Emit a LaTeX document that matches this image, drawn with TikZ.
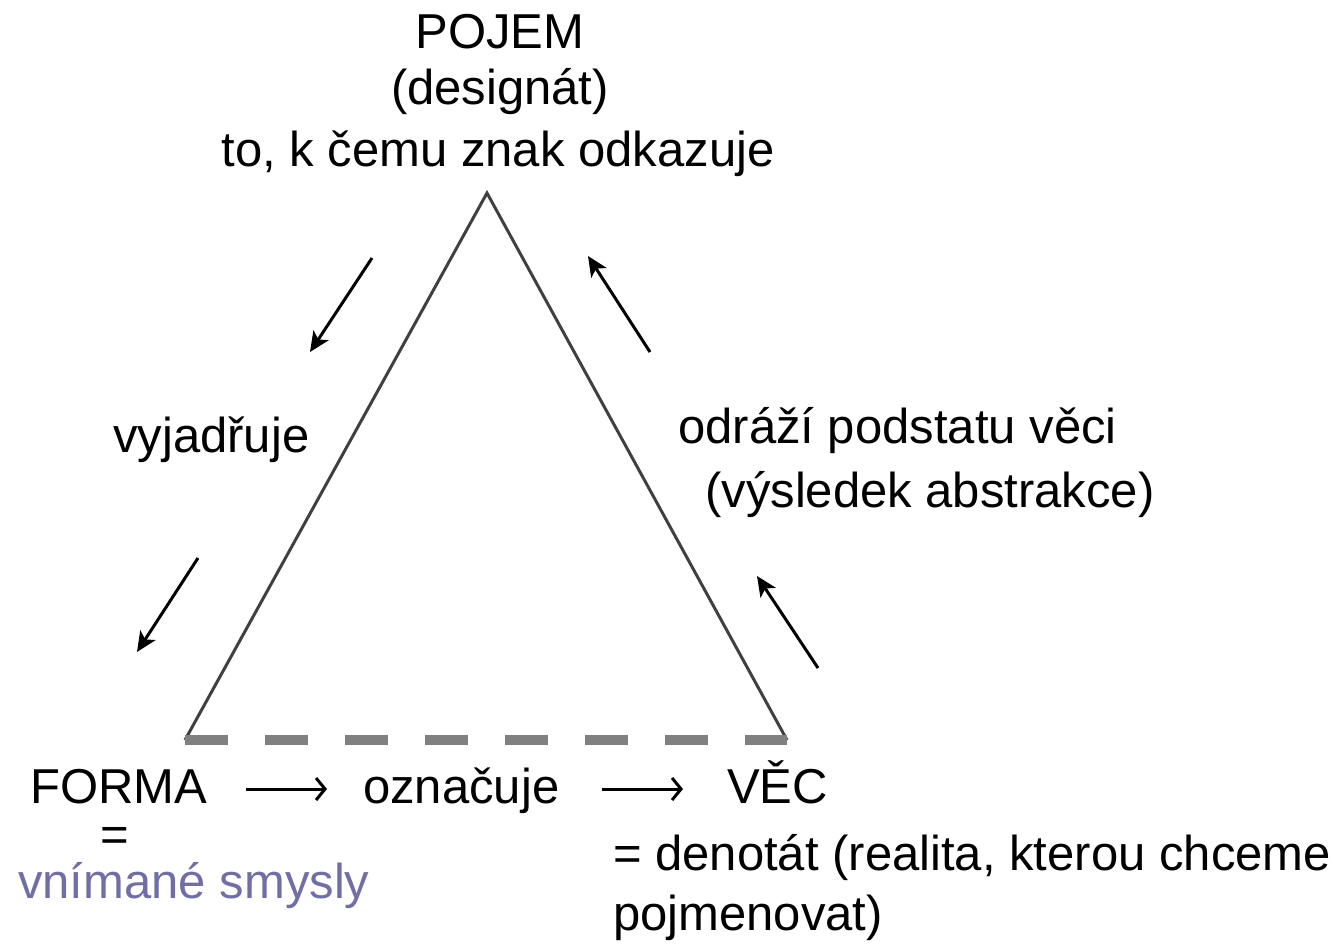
\documentclass[tikz,border=0pt]{standalone}
\usepackage{fontspec}
\setmainfont{Liberation Sans}
\usetikzlibrary{arrows.meta}
\definecolor{triline}{RGB}{64,64,64}
\definecolor{dashgray}{RGB}{128,128,128}
\definecolor{senses}{RGB}{112,110,165}
\tikzset{
  lbl/.style={anchor=base west, inner sep=0pt, font=\fontsize{49}{58}\selectfont},
  clbl/.style={anchor=base, inner sep=0pt, font=\fontsize{49}{58}\selectfont},
  side/.style={draw=triline, line width=3pt, line join=miter},
  base/.style={draw=dashgray, line width=10pt, dash pattern=on 43pt off 37pt},
  diag/.style={line width=3pt, -{Stealth[length=20pt,width=18pt,inset=5pt]}},
  horiz/.style={line width=3pt, -{Straight Barb[length=9pt,width=22pt,line width=3pt]}}
}
\begin{document}
\begin{tikzpicture}[x=1pt,y=-1pt]
\useasboundingbox (0,0) rectangle (1335,943);
% triangle corners
\coordinate (apex) at (487,193);
\coordinate (bl) at (185,740);
\coordinate (br) at (787,740);
\draw[side] (bl) -- (apex) -- (br);
\draw[base] (bl) -- (br);
% top labels
\node[clbl] (pojem) at (500,48) {POJEM};
\node[clbl] (design) at (500,104) {(designát)};
\node[clbl] (toto) at (498,166) {to, k čemu znak odkazuje};
% side labels
\node[lbl] (vyj) at (113,452) {vyjadřuje};
\node[lbl] (odr) at (678,443) {odráží podstatu věci};
\node[lbl] (vys) at (705,507) {(výsledek abstrakce)};
% bottom labels
\node[lbl] (forma) at (30,803) {FORMA};
\node[lbl] (ozn) at (363,803) {označuje};
\node[lbl] (vec) at (727,803) {VĚC};
\node[lbl] (eq) at (100,851) {=};
\node[lbl, text=senses] (vnim) at (18,898) {vnímané smysly};
\node[lbl] (den) at (613,870) {= denotát (realita, kterou chceme};
\node[lbl] (pojm) at (613,930) {pojmenovat)};
% diagonal arrows
\coordinate (a1s) at (372,258); \coordinate (a1e) at (310,352);
\coordinate (a2s) at (198,558); \coordinate (a2e) at (137,652);
\coordinate (a3s) at (650,352); \coordinate (a3e) at (588,256);
\coordinate (a4s) at (818,668); \coordinate (a4e) at (757,576);
\draw[diag] (a1s) -- (a1e);
\draw[diag] (a2s) -- (a2e);
\draw[diag] (a3s) -- (a3e);
\draw[diag] (a4s) -- (a4e);
% horizontal arrows
\coordinate (h1s) at (246,789); \coordinate (h1e) at (327,789);
\coordinate (h2s) at (602,789); \coordinate (h2e) at (683,789);
\draw[horiz] (h1s) -- (h1e);
\draw[horiz] (h2s) -- (h2e);
\end{tikzpicture}
\end{document}
